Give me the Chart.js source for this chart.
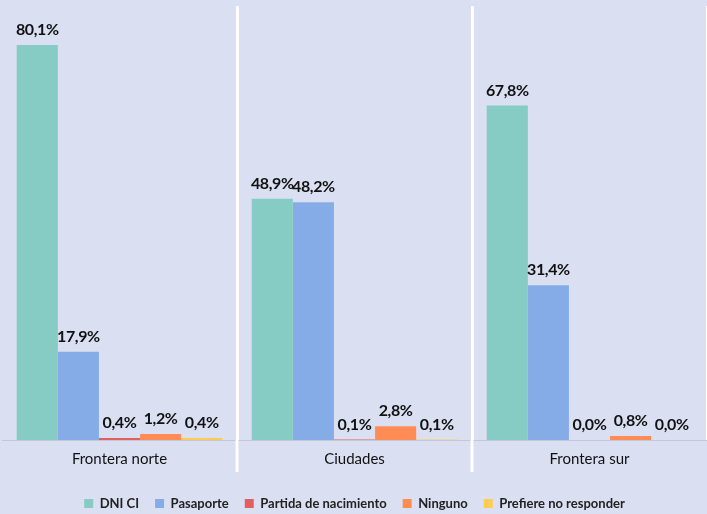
<!DOCTYPE html>
<html>
<head>
<meta charset="utf-8">
<script src="https://cdn.jsdelivr.net/npm/chart.js@4"></script>
<style>
  html, body { margin: 0; padding: 0; background: #dae0f2; }
  #wrap { width: 707px; height: 514px; }
</style>
</head>
<body>
<div id="wrap"><canvas id="docChart"></canvas></div>
<script>
// Chart data
const categories = ['Frontera norte', 'Ciudades', 'Frontera sur'];
const seriesNames = ['DNI CI', 'Pasaporte', 'Partida de nacimiento', 'Ninguno', 'Prefiere no responder'];
const dniValues = [80.1, 48.9, 67.8];
const pasaporteValues = [17.9, 48.2, 31.4];
const partidaValues = [0.4, 0.1, 0.0];
const ningunoValues = [1.2, 2.8, 0.8];
const prefiereValues = [0.4, 0.1, 0.0];
const seriesColors = ['#86ccc4', '#86ace8', '#e06060', '#ff8c55', '#ffcb50'];

const fontFamily = 'Lato, "DejaVu Sans Condensed", sans-serif';

// value labels above the bars + separator lines running down past the axis
const valueLabels = {
    id: 'valueLabels',
    afterDatasetsDraw(chart) {
        let ctx = chart.ctx;
        ctx.save();
        ctx.font = 'bold 16px ' + fontFamily;
        ctx.letterSpacing = '-0.4px';
        ctx.fillStyle = '#111';
        ctx.textAlign = 'center';
        ctx.textBaseline = 'bottom';
        chart.data.datasets.forEach((ds, i) => {
            chart.getDatasetMeta(i).data.forEach((bar, j) => {
                let txt = ds.data[j].toFixed(1).replace('.', ',') + '%';
                ctx.fillText(txt, bar.x, bar.y - 7);
            });
        });
        // extend category separators below the baseline
        let xs = chart.scales.x;
        let bottom = chart.chartArea.bottom;
        ctx.strokeStyle = '#ffffff';
        ctx.lineWidth = 3;
        for (let i = 0; i < categories.length - 1; i++) {
            let x = (xs.getPixelForValue(i) + xs.getPixelForValue(i + 1)) / 2;
            ctx.beginPath();
            ctx.moveTo(x, bottom);
            ctx.lineTo(x, bottom + 32);
            ctx.stroke();
        }
        ctx.restore();
    }
};

let allSeries = [dniValues, pasaporteValues, partidaValues, ningunoValues, prefiereValues];

let ctx = document.getElementById('docChart').getContext('2d');
let docChart = new Chart(ctx, {
    type: 'bar',
    data: {
        labels: categories,
        datasets: allSeries.map((vals, i) => ({
            label: seriesNames[i],
            data: vals,
            backgroundColor: seriesColors[i],
            categoryPercentage: 0.875,
            barPercentage: 1.0
        }))
    },
    options: {
        responsive: true,
        maintainAspectRatio: false,
        animation: false,
        layout: { padding: { top: 6, left: 2, right: 0, bottom: -6 } },
        plugins: {
            legend: {
                position: 'bottom',
                labels: {
                    font: { family: fontFamily, size: 13, weight: 'bold' },
                    color: '#222',
                    boxWidth: 9,
                    boxHeight: 9,
                    padding: 16
                }
            },
            tooltip: { enabled: false }
        },
        scales: {
            x: {
                grid: {
                    offset: true,
                    color: (c) => (c.index === 0 || c.index === categories.length) ? 'rgba(0,0,0,0)' : '#ffffff',
                    lineWidth: 3,
                    drawTicks: false
                },
                border: { display: true, color: '#c4c8d4', width: 1 },
                ticks: {
                    font: { family: fontFamily, size: 15 },
                    color: '#111',
                    padding: 10
                },
                afterFit: (scale) => { scale.height += 3; }
            },
            y: {
                display: false,
                min: 0,
                max: 88
            }
        }
    },
    plugins: [valueLabels]
});
</script>
</body>
</html>
